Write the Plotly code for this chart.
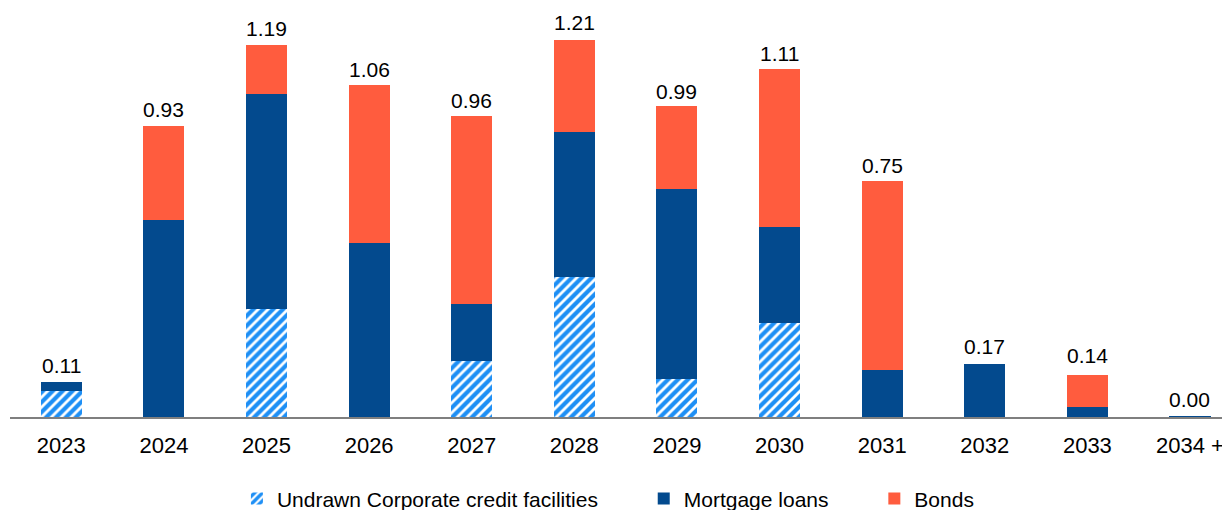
import plotly.graph_objects as go

years = ["2023", "2024", "2025", "2026", "2027", "2028", "2029", "2030", "2031", "2032", "2033", "2034 +"]
undrawn = [0.083, 0.0, 0.347, 0.0, 0.180, 0.449, 0.122, 0.302, 0.0, 0.0, 0.0, 0.0]
mortgage = [0.029, 0.633, 0.690, 0.558, 0.183, 0.465, 0.610, 0.308, 0.151, 0.170, 0.032, 0.003]
bonds = [0.0, 0.300, 0.157, 0.507, 0.603, 0.295, 0.266, 0.507, 0.607, 0.0, 0.103, 0.0]
totals = [0.11, 0.93, 1.19, 1.06, 0.96, 1.21, 0.99, 1.11, 0.75, 0.17, 0.14, 0.00]

FONT = "Liberation Sans, Arial, sans-serif"
NB = "\u00a0"

fig = go.Figure()
fig.add_trace(go.Bar(
    x=years, y=undrawn, name="Undrawn Corporate credit facilities" + NB * 7,
    marker=dict(color="white", line=dict(width=0),
                pattern=dict(shape="/", fgcolor="#1E8FF5", bgcolor="white", size=7,
                             solidity=0.6, fgopacity=1)),
))
fig.add_trace(go.Bar(x=years, y=mortgage, name="Mortgage loans" + NB * 7,
                     marker=dict(color="#034A8E", line=dict(width=0))))
fig.add_trace(go.Bar(x=years, y=bonds, name="Bonds",
                     marker=dict(color="#FF5C3E", line=dict(width=0))))

for i, tot in enumerate(totals):
    fig.add_annotation(x=i, y=tot, xref="x", yref="y", text=f"{tot:.2f}", showarrow=False,
                       yanchor="bottom", yshift=4,
                       font=dict(size=21, color="black", family=FONT))

fig.update_layout(
    width=1222, height=502,
    barmode="stack", bargap=0.6,
    margin=dict(l=2, r=0, t=0, b=93, autoexpand=False),
    paper_bgcolor="white", plot_bgcolor="white",
    font=dict(family=FONT, size=21, color="black"),
    xaxis=dict(type="category", range=[-0.5, 11.39], showline=True, linecolor="#7F7F7F",
               linewidth=2, ticks="", tickfont=dict(size=22), showgrid=False,
               automargin=False, ticklabelstandoff=8),
    yaxis=dict(range=[0, 1.3126], visible=False, showgrid=False, automargin=False),
    legend=dict(orientation="h", x=0.186, xanchor="left", y=-0.2, yanchor="middle",
                font=dict(size=21), traceorder="normal"),
    showlegend=True,
)

fig.write_html("out.html")
